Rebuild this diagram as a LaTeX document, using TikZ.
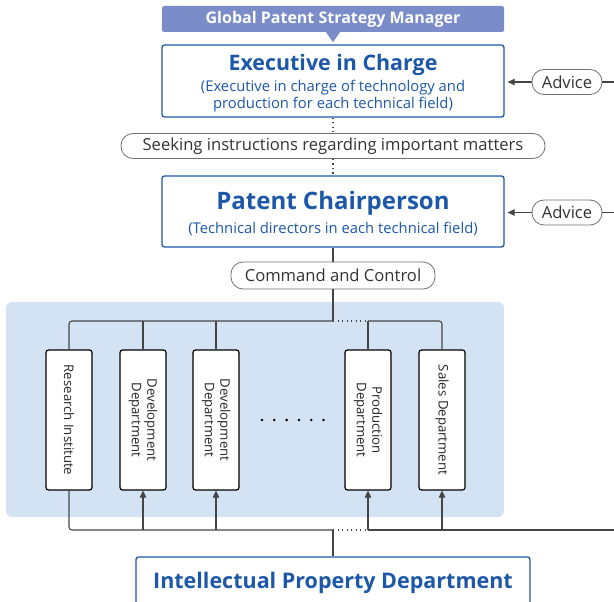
\documentclass[tikz,border=0pt]{standalone}
\usepackage{fontspec}
\setmainfont{Open Sans}
\usetikzlibrary{arrows.meta}
\definecolor{ipblue}{HTML}{1D58A8}
\definecolor{bannerblue}{HTML}{7A8DC8}
\definecolor{panelblue}{HTML}{D3E3F3}
\definecolor{linegray}{HTML}{454545}
\definecolor{pillgray}{HTML}{707070}
\tikzset{
  mainbox/.style={draw=ipblue,line width=1.3pt,rounded corners=2.5pt,fill=white,minimum width=342pt,inner sep=0pt},
  titletext/.style={text=ipblue,font=\fontsize{21.4}{25}\selectfont\bfseries},
  subtext/.style={text=ipblue,font=\fontsize{14.8}{17}\selectfont,align=center},
  pill/.style={draw=pillgray,line width=0.8pt,rounded corners=12pt,fill=white,text=black!80,font=\fontsize{16.6}{19}\selectfont,inner sep=0pt},
  deptbox/.style={draw=black,line width=1.2pt,rounded corners=2.5pt,fill=white,rotate=-90,minimum width=140pt,minimum height=46pt,inner sep=0pt,align=center,font=\fontsize{13.2}{15.5}\selectfont,text=black!85},
  bus/.style={draw=linegray,line width=1.1pt},
  dotbus/.style={draw=linegray,line width=1.1pt,dash pattern=on 1.3pt off 3.2pt},
  tip/.style={-{Triangle[length=7pt,width=6.5pt]}}
}
\begin{document}
\begin{tikzpicture}[x=1pt,y=-1pt]
\useasboundingbox (0,0) rectangle (614,602);
\fill[panelblue,rounded corners=6pt] (6,302) rectangle (504,517);
\node[fill=bannerblue,rounded corners=2pt,minimum width=342pt,minimum height=26pt,inner sep=0pt,text=white,font=\fontsize{16}{19}\selectfont\bfseries] (gpsm) at (333,19) {Global Patent Strategy Manager};
\fill[bannerblue] ([xshift=-7pt]gpsm.south) -- ([xshift=7pt]gpsm.south) -- ([yshift=-10pt]gpsm.south) -- cycle;
\node[mainbox,minimum height=72pt] (exec) at (333,81) {};
\node[titletext] (execT) at (333,65) {Executive in Charge};
\node[subtext] (execS) at (333,96) {(Executive in charge of technology and\\production for each technical field)};
\node[pill,minimum width=424pt,minimum height=25pt] (seek) at (333,146) {Seeking instructions regarding important matters};
\node[mainbox,minimum height=71pt] (pc) at (333,211.5) {};
\node[titletext,font=\fontsize{24}{28}\selectfont\bfseries] (pcT) at (333,203) {Patent Chairperson};
\node[subtext] (pcS) at (333,229) {(Technical directors in each technical field)};
\node[pill,minimum width=204pt,minimum height=27pt] (cc) at (333,275.5) {Command and Control};
\node[pill,minimum width=70pt,minimum height=25pt] (adv1) at (567,82) {Advice};
\node[pill,minimum width=70pt,minimum height=25pt] (adv2) at (567,212.5) {Advice};
\node[deptbox] (d1) at (69,420) {Research Institute};
\node[deptbox] (d2) at (143,420) {Development\\Department};
\node[deptbox] (d3) at (216,420) {Development\\Department};
\node[deptbox] (d4) at (368,420) {Production\\Department};
\node[deptbox] (d5) at (442,420) {Sales Department};
\foreach \i in {0,...,5}
  \fill[black] (262+\i*12.3,420) circle (1.4);
\node[mainbox,minimum width=394pt,minimum height=52pt] (ipd) at (333,583) {};
\node[titletext,font=\fontsize{21.5}{25}\selectfont\bfseries] (ipdT) at (333,583) {Intellectual Property Department};
\coordinate (topJ) at (333,321);
\coordinate (botJ) at (333,530);
\coordinate (botR) at (614,530);
\draw[dotbus] (exec) -- (seek);
\draw[dotbus] (seek) -- (pc);
\draw[bus] (pc) -- (cc);
\draw[bus] (cc) -- (topJ);
\draw[bus,rounded corners=3pt] (d1.west) |- (topJ);
\draw[bus] (d2.west) -- (d2.west |- topJ);
\draw[bus] (d3.west) -- (d3.west |- topJ);
\draw[dotbus] (topJ) -- (topJ -| d4);
\draw[bus,rounded corners=3pt] (topJ -| d4) -| (d5.west);
\draw[bus] (d4.west) -- (d4.west |- topJ);
\draw[bus,rounded corners=3pt] (d1.east) |- (botJ);
\draw[dotbus] (botJ) -- (botJ -| d4);
\draw[bus] (botJ -| d4) -- (botR);
\foreach \d in {d2,d3,d4,d5}
  \draw[bus,tip] (\d.east |- botJ) -- (\d.east);
\draw[bus] (ipd) -- (botJ);
\draw[bus,tip,shorten >=3pt] (adv1) -- (exec.east |- adv1);
\draw[bus] (adv1.east) -- (614,82);
\draw[bus,tip,shorten >=3pt] (adv2) -- (pc.east |- adv2);
\draw[bus] (adv2.east) -- (614,212.5);
\end{tikzpicture}
\end{document}
